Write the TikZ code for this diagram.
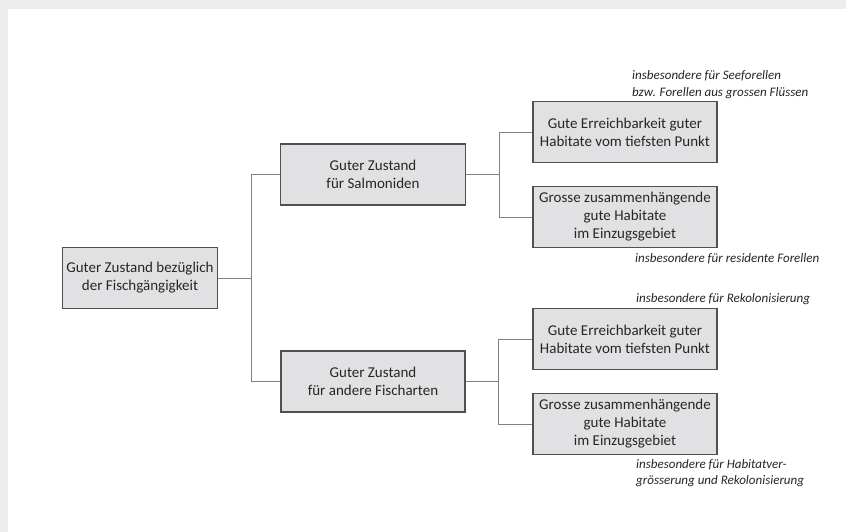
\documentclass[tikz,border=0pt]{standalone}
\usepackage{fontspec}
\setmainfont{Carlito}
\usetikzlibrary{trees}
\definecolor{framegray}{HTML}{ECEEED}
\definecolor{boxfill}{HTML}{E1E1E3}
\definecolor{boxline}{HTML}{505050}
\definecolor{linkgray}{HTML}{808080}
\definecolor{textgray}{HTML}{262626}
\tikzset{
    box/.style = {draw=boxline, fill=boxfill, line width=1.3pt, align=center, text=textgray,
                  minimum width=184pt, minimum height=61pt, inner sep=2pt,
                  font=\fontsize{15}{18}\selectfont},
    rootbox/.style = {box, minimum width=155pt},
    note/.style = {align=left, inner sep=0pt, text=textgray,
                   font=\itshape\fontsize{13}{16.5}\selectfont},
    level 1/.style = {level distance=233pt, sibling distance=207pt},
    level 2/.style = {level distance=252pt, sibling distance=85pt},
    edge from parent/.style = {draw=linkgray, line width=0.8pt},
    edge from parent path = {(\tikzparentnode.east) -- ++(33pt,0) |- (\tikzchildnode.west)}
}

\begin{document}
\begin{tikzpicture}[grow'=right, x=1pt, y=1pt]
    \fill[framegray] (0,0) rectangle (846,-532);
    \fill[white] (8,-9) rectangle (846,-532);
    \useasboundingbox (0,0) rectangle (846,-532);
    \node[rootbox] (ziel) at (140,-278) {Guter Zustand bezüglich\\der Fischgängigkeit}
        child {node[box, minimum width=185pt] (salm) {Guter Zustand\\für Salmoniden}
            child {node[box] (salmA) {Gute Erreichbarkeit guter\\Habitate vom tiefsten Punkt}}
            child {node[box] (salmB) {Grosse zusammenhängende\\gute Habitate\\im Einzugsgebiet}}
        }
        child {node[box] (andere) {Guter Zustand\\für andere Fischarten}
            child {node[box] (andA) {Gute Erreichbarkeit guter\\Habitate vom tiefsten Punkt}}
            child {node[box] (andB) {Grosse zusammenhängende\\gute Habitate\\im Einzugsgebiet}}
        };
    % Hinweise
    \node[note, anchor=south west] (hinwA) at ([xshift=7pt, yshift=2pt]salmA.north)
        {insbesondere für Seeforellen\\bzw. Forellen aus grossen Flüssen};
    \node[note, anchor=north west] (hinwB) at ([xshift=10pt, yshift=-5pt]salmB.south)
        {insbesondere für residente Forellen};
    \node[note, anchor=south west] (hinwC) at ([xshift=11pt, yshift=3pt]andA.north)
        {insbesondere für Rekolonisierung};
    \node[note, anchor=north west] (hinwD) at ([xshift=11pt, yshift=-4pt]andB.south)
        {insbesondere für Habitatver-\\grösserung und Rekolonisierung};
\end{tikzpicture}
\end{document}
